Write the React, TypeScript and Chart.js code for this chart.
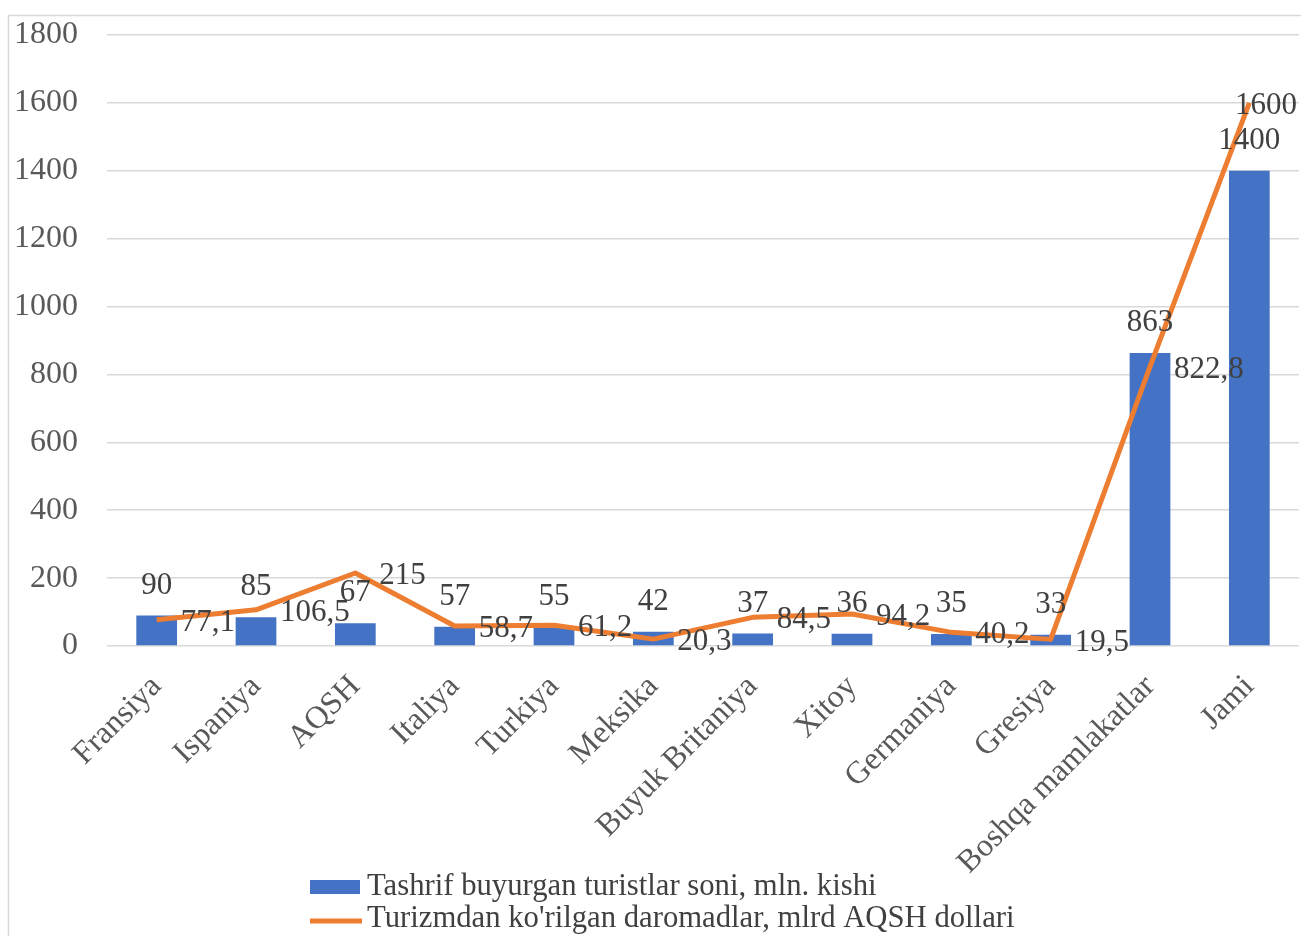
import React, { useEffect, useRef } from "react";
import { Chart, registerables } from "chart.js";

Chart.register(...registerables);

const categories = [
  "Fransiya",
  "Ispaniya",
  "AQSH",
  "Italiya",
  "Turkiya",
  "Meksika",
  "Buyuk Britaniya",
  "Xitoy",
  "Germaniya",
  "Gresiya",
  "Boshqa mamlakatlar",
  "Jami",
];
const touristsMln = [90, 85, 67, 57, 55, 42, 37, 36, 35, 33, 863, 1400];
const revenueBlnUsd = [77.1, 106.5, 215, 58.7, 61.2, 20.3, 84.5, 94.2, 40.2, 19.5, 822.8, 1600];
const seriesNames = [
  "Tashrif buyurgan turistlar soni, mln. kishi",
  "Turizmdan ko'rilgan daromadlar, mlrd AQSH dollari",
];
const yMin = 0;
const yMax = 1800;
const yStep = 200;

const FONT = "'Liberation Serif', 'Times New Roman', serif";
const BLUE = "#4472C4";
const ORANGE = "#ED7D31";
const TEXT = "#404040";
const TICK = "#595959";
const GRID = "#d9d9d9";

const fmt = (v: number) => String(v).replace(".", ",");

const framePlugin = {
  id: "frame",
  beforeDraw(chart: any) {
    const { ctx } = chart;
    ctx.save();
    ctx.fillStyle = "#ffffff";
    ctx.fillRect(0, 0, chart.width, chart.height);
    ctx.strokeStyle = GRID;
    ctx.lineWidth = 1.5;
    ctx.strokeRect(8.5, 15.5, chart.width + 20, chart.height + 20);
    ctx.restore();
  },
};

const labelsPlugin = {
  id: "valueLabels",
  afterDatasetsDraw(chart: any) {
    const { ctx } = chart;
    ctx.save();
    ctx.font = `31px ${FONT}`;
    ctx.fillStyle = TEXT;
    ctx.textBaseline = "middle";
    chart.data.datasets.forEach((ds: any, di: number) => {
      const meta = chart.getDatasetMeta(di);
      meta.data.forEach((el: any, i: number) => {
        const text = fmt(ds.data[i]);
        if (ds.type === "bar") {
          ctx.textAlign = "center";
          ctx.fillText(text, el.x, el.y - 30);
        } else {
          ctx.textAlign = "left";
          const w = ctx.measureText(text).width;
          let x = el.x + 24;
          if (x + w > chart.width - 4) x = chart.width - 4 - w;
          ctx.fillText(text, x, el.y + 3);
        }
      });
    });
    ctx.restore();
  },
};

const legendPlugin = {
  id: "customLegend",
  afterDraw(chart: any) {
    const { ctx } = chart;
    ctx.save();
    ctx.font = `30.7px ${FONT}`;
    ctx.textBaseline = "middle";
    ctx.textAlign = "left";
    const rows = [887, 919];
    chart.data.datasets.forEach((ds: any, i: number) => {
      const y = rows[i];
      if (ds.type === "bar") {
        ctx.fillStyle = ds.backgroundColor;
        ctx.fillRect(310, y - 7, 50, 14);
      } else {
        ctx.strokeStyle = ds.borderColor;
        ctx.lineWidth = 5;
        ctx.beginPath();
        ctx.moveTo(310, y + 2);
        ctx.lineTo(362, y + 2);
        ctx.stroke();
      }
      ctx.fillStyle = TEXT;
      ctx.fillText(ds.label, 367, y);
    });
    ctx.restore();
  },
};

export default function App() {
  const ref = useRef<HTMLCanvasElement | null>(null);

  useEffect(() => {
    if (!ref.current) return;
    const chart = new Chart(ref.current, {
      type: "bar",
      data: {
        labels: categories,
        datasets: [
          {
            type: "bar",
            label: seriesNames[0],
            data: touristsMln,
            backgroundColor: BLUE,
            categoryPercentage: 1,
            barPercentage: 0.41,
            order: 2,
          } as any,
          {
            type: "line",
            label: seriesNames[1],
            data: revenueBlnUsd,
            borderColor: ORANGE,
            backgroundColor: ORANGE,
            borderWidth: 5,
            pointRadius: 0,
            tension: 0,
            borderJoinStyle: "round",
            order: 1,
          } as any,
        ],
      },
      options: {
        responsive: false,
        animation: false,
        layout: { padding: { left: 10, top: 35, right: 2, bottom: 60 } },
        plugins: {
          legend: { display: false },
          tooltip: { enabled: false },
        },
        scales: {
          x: {
            grid: { display: false },
            border: { display: false },
            ticks: {
              minRotation: 45,
              maxRotation: 45,
              autoSkip: false,
              padding: 14,
              color: TICK,
              font: { family: FONT, size: 32 },
            },
            afterFit: (s: any) => {
              s.height = 230;
            },
          },
          y: {
            min: yMin,
            max: yMax,
            grid: { color: GRID, lineWidth: 1.5, drawTicks: false },
            border: { display: false },
            ticks: {
              stepSize: yStep,
              padding: 29,
              color: TICK,
              font: { family: FONT, size: 32 },
              callback: (v: any) => String(v),
            },
            afterFit: (s: any) => {
              s.width = 97;
              s.paddingTop = 10;
              s.paddingBottom = 10;
            },
          },
        },
      },
      plugins: [framePlugin, labelsPlugin, legendPlugin],
    });
    return () => chart.destroy();
  }, []);

  return (
    <div style={{ position: "fixed", left: 0, top: 0, width: 1301, height: 936 }}>
      <canvas ref={ref} width={1301} height={936} />
    </div>
  );
}
